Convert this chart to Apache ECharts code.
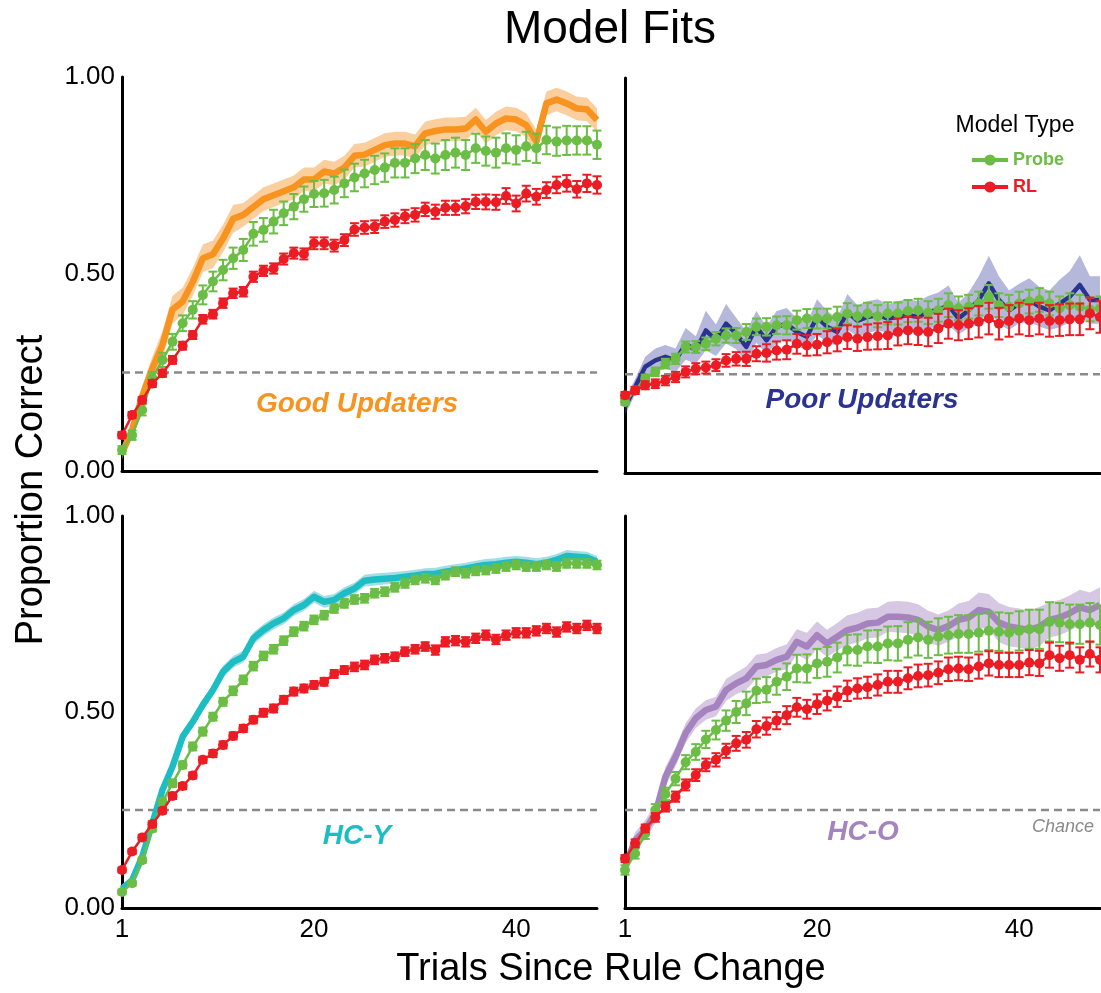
<!DOCTYPE html>
<html><head><meta charset="utf-8">
<script src="https://cdn.jsdelivr.net/npm/echarts@6/dist/echarts.min.js"></script>
<style>html,body{margin:0;padding:0;background:#fff}#c{width:1101px;height:993px}</style>
</head><body><div id="c"></div>
<script>
const trials = [1,2,3,4,5,6,7,8,9,10,11,12,13,14,15,16,17,18,19,20,21,22,23,24,25,26,27,28,29,30,31,32,33,34,35,36,37,38,39,40,41,42,43,44,45,46,47,48];
const xTickValues = [1,20,40];
const chanceLevel = 0.25;
const panelNames = ['Good Updaters','Poor Updaters','HC-Y','HC-O'];
const modelNames = ['Probe','RL'];

// Good Updaters
const goodData = [0.045,0.104,0.19,0.26,0.32,0.41,0.43,0.48,0.54,0.55,0.59,0.64,0.65,0.67,0.69,0.70,0.71,0.72,0.74,0.74,0.76,0.755,0.77,0.80,0.803,0.815,0.827,0.831,0.831,0.824,0.857,0.863,0.867,0.867,0.869,0.892,0.861,0.882,0.895,0.892,0.878,0.836,0.933,0.943,0.933,0.92,0.918,0.891];
const goodSE = [0.015,0.02,0.025,0.03,0.035,0.035,0.035,0.035,0.035,0.035,0.035,0.035,0.03,0.03,0.03,0.03,0.03,0.03,0.03,0.03,0.03,0.03,0.03,0.03,0.03,0.03,0.03,0.03,0.03,0.03,0.03,0.03,0.03,0.03,0.03,0.03,0.03,0.03,0.03,0.03,0.03,0.03,0.03,0.03,0.03,0.03,0.03,0.03];
const goodProbe = [0.053,0.091,0.155,0.235,0.282,0.328,0.375,0.409,0.447,0.481,0.510,0.540,0.561,0.602,0.612,0.633,0.654,0.671,0.690,0.703,0.705,0.713,0.730,0.745,0.755,0.764,0.770,0.782,0.782,0.793,0.802,0.793,0.802,0.808,0.802,0.819,0.812,0.808,0.819,0.815,0.824,0.819,0.840,0.836,0.839,0.839,0.839,0.828];
const goodProbeErr = [0.01,0.012,0.014,0.016,0.018,0.02,0.02,0.022,0.024,0.025,0.026,0.027,0.028,0.03,0.03,0.03,0.03,0.032,0.032,0.033,0.034,0.034,0.035,0.035,0.035,0.036,0.036,0.037,0.037,0.037,0.038,0.038,0.038,0.038,0.038,0.037,0.037,0.038,0.038,0.037,0.037,0.037,0.036,0.036,0.037,0.036,0.036,0.036];
const goodRL = [0.091,0.142,0.180,0.222,0.248,0.282,0.318,0.345,0.385,0.398,0.426,0.451,0.455,0.493,0.508,0.514,0.538,0.553,0.551,0.578,0.578,0.572,0.586,0.613,0.618,0.620,0.633,0.637,0.646,0.650,0.664,0.658,0.668,0.668,0.672,0.683,0.683,0.682,0.698,0.679,0.704,0.696,0.713,0.726,0.730,0.715,0.730,0.726];
const goodRLErr = [0.008,0.008,0.008,0.009,0.009,0.01,0.01,0.01,0.011,0.011,0.012,0.012,0.012,0.013,0.013,0.013,0.014,0.014,0.014,0.015,0.015,0.015,0.015,0.016,0.016,0.016,0.016,0.017,0.017,0.017,0.017,0.018,0.018,0.018,0.018,0.018,0.019,0.019,0.02,0.02,0.02,0.02,0.02,0.021,0.021,0.021,0.022,0.022];

// Poor Updaters
const poorData = [0.167,0.218,0.269,0.285,0.294,0.285,0.327,0.311,0.361,0.336,0.378,0.353,0.319,0.370,0.336,0.370,0.378,0.357,0.345,0.395,0.370,0.357,0.408,0.385,0.395,0.400,0.391,0.395,0.400,0.395,0.408,0.412,0.425,0.391,0.412,0.438,0.480,0.438,0.412,0.429,0.438,0.421,0.412,0.429,0.446,0.476,0.438,0.438];
const poorSE = [0.02,0.02,0.025,0.03,0.03,0.03,0.04,0.035,0.05,0.04,0.05,0.04,0.04,0.04,0.035,0.04,0.04,0.035,0.035,0.045,0.04,0.035,0.045,0.04,0.04,0.04,0.035,0.04,0.04,0.04,0.04,0.045,0.05,0.04,0.045,0.06,0.07,0.06,0.05,0.05,0.055,0.05,0.05,0.06,0.065,0.075,0.06,0.06];
const poorProbe = [0.180,0.209,0.239,0.256,0.277,0.289,0.319,0.319,0.327,0.340,0.348,0.348,0.357,0.370,0.370,0.374,0.374,0.387,0.391,0.391,0.391,0.395,0.404,0.397,0.404,0.397,0.404,0.404,0.410,0.412,0.406,0.412,0.425,0.417,0.421,0.429,0.446,0.425,0.421,0.429,0.434,0.438,0.429,0.417,0.425,0.421,0.414,0.417];
const poorProbeErr = [0.008,0.009,0.01,0.011,0.012,0.013,0.014,0.015,0.016,0.017,0.018,0.019,0.02,0.021,0.022,0.022,0.023,0.024,0.024,0.025,0.025,0.026,0.026,0.027,0.027,0.028,0.028,0.028,0.028,0.029,0.029,0.029,0.03,0.03,0.03,0.03,0.03,0.03,0.03,0.03,0.03,0.03,0.03,0.03,0.03,0.03,0.03,0.03];
const poorRL = [0.197,0.209,0.222,0.226,0.234,0.243,0.256,0.264,0.267,0.273,0.285,0.289,0.289,0.302,0.304,0.310,0.312,0.327,0.323,0.325,0.331,0.337,0.344,0.340,0.344,0.346,0.348,0.357,0.361,0.359,0.357,0.366,0.378,0.374,0.378,0.383,0.391,0.378,0.385,0.391,0.387,0.391,0.385,0.387,0.389,0.389,0.404,0.395];
const poorRLErr = [0.008,0.009,0.01,0.011,0.012,0.013,0.014,0.014,0.015,0.015,0.016,0.017,0.018,0.019,0.022,0.023,0.024,0.025,0.026,0.027,0.028,0.029,0.03,0.031,0.032,0.033,0.034,0.034,0.035,0.035,0.036,0.037,0.038,0.038,0.039,0.04,0.04,0.04,0.04,0.04,0.04,0.04,0.04,0.04,0.04,0.04,0.04,0.04];

// HC-Y
const hcyData = [0.050,0.071,0.131,0.216,0.301,0.361,0.437,0.475,0.518,0.556,0.603,0.628,0.641,0.688,0.709,0.726,0.739,0.760,0.773,0.794,0.781,0.786,0.803,0.815,0.835,0.838,0.840,0.842,0.845,0.848,0.852,0.853,0.858,0.862,0.866,0.871,0.875,0.877,0.881,0.883,0.881,0.877,0.881,0.888,0.898,0.896,0.894,0.883];
const hcySE = [0.01,0.01,0.01,0.012,0.012,0.012,0.014,0.014,0.014,0.014,0.015,0.015,0.015,0.015,0.015,0.015,0.015,0.015,0.015,0.015,0.015,0.015,0.015,0.015,0.015,0.015,0.015,0.015,0.015,0.015,0.015,0.015,0.015,0.015,0.015,0.015,0.015,0.015,0.015,0.015,0.015,0.015,0.015,0.015,0.015,0.015,0.015,0.015];
const hcyProbe = [0.041,0.063,0.122,0.203,0.271,0.318,0.365,0.412,0.450,0.488,0.526,0.554,0.582,0.617,0.643,0.660,0.682,0.705,0.719,0.735,0.747,0.764,0.777,0.787,0.790,0.803,0.807,0.818,0.828,0.837,0.841,0.837,0.849,0.858,0.854,0.860,0.862,0.866,0.871,0.875,0.871,0.871,0.875,0.871,0.879,0.879,0.879,0.875];
const hcyProbeErr = [0.006,0.006,0.007,0.008,0.008,0.009,0.009,0.01,0.01,0.01,0.01,0.011,0.011,0.011,0.011,0.011,0.011,0.011,0.011,0.011,0.011,0.011,0.011,0.011,0.011,0.011,0.011,0.011,0.011,0.011,0.011,0.011,0.011,0.011,0.011,0.011,0.011,0.011,0.011,0.011,0.011,0.011,0.011,0.011,0.011,0.011,0.011,0.011];
const hcyRL = [0.097,0.144,0.180,0.214,0.248,0.286,0.311,0.338,0.378,0.394,0.416,0.439,0.458,0.480,0.498,0.509,0.531,0.552,0.560,0.569,0.577,0.597,0.607,0.615,0.620,0.633,0.637,0.641,0.654,0.660,0.667,0.658,0.679,0.682,0.679,0.688,0.696,0.685,0.696,0.702,0.702,0.707,0.713,0.704,0.717,0.713,0.721,0.713];
const hcyRLErr = [0.006,0.006,0.007,0.007,0.007,0.008,0.008,0.008,0.008,0.009,0.009,0.009,0.009,0.009,0.01,0.01,0.01,0.01,0.01,0.01,0.01,0.01,0.01,0.011,0.011,0.011,0.011,0.011,0.011,0.011,0.011,0.012,0.012,0.012,0.012,0.012,0.012,0.012,0.012,0.012,0.012,0.012,0.012,0.012,0.012,0.012,0.012,0.012];

// HC-O
const hcoData = [0.105,0.173,0.199,0.241,0.335,0.386,0.446,0.484,0.505,0.514,0.556,0.573,0.586,0.616,0.620,0.633,0.641,0.679,0.667,0.696,0.675,0.692,0.709,0.715,0.726,0.728,0.743,0.743,0.741,0.735,0.718,0.709,0.719,0.735,0.741,0.760,0.756,0.728,0.718,0.714,0.709,0.718,0.735,0.741,0.752,0.767,0.760,0.773];
const hcoSE = [0.02,0.02,0.025,0.025,0.025,0.025,0.025,0.025,0.025,0.025,0.028,0.028,0.03,0.03,0.03,0.03,0.032,0.032,0.035,0.035,0.035,0.035,0.038,0.038,0.038,0.038,0.038,0.04,0.04,0.04,0.04,0.04,0.04,0.042,0.042,0.045,0.045,0.05,0.05,0.05,0.05,0.05,0.045,0.045,0.045,0.045,0.045,0.045];
const hcoProbe = [0.097,0.139,0.190,0.250,0.291,0.330,0.372,0.398,0.430,0.454,0.478,0.500,0.522,0.554,0.557,0.577,0.590,0.611,0.611,0.624,0.628,0.639,0.658,0.658,0.667,0.667,0.675,0.675,0.684,0.690,0.684,0.692,0.696,0.699,0.699,0.702,0.707,0.705,0.702,0.707,0.711,0.711,0.730,0.728,0.724,0.724,0.728,0.722];
const hcoProbeErr = [0.012,0.013,0.014,0.015,0.016,0.017,0.018,0.02,0.022,0.024,0.026,0.028,0.03,0.031,0.032,0.033,0.034,0.035,0.036,0.037,0.038,0.038,0.039,0.04,0.041,0.042,0.043,0.044,0.045,0.046,0.046,0.047,0.047,0.048,0.048,0.048,0.049,0.049,0.05,0.05,0.05,0.05,0.05,0.05,0.05,0.05,0.05,0.05];
const hcoRL = [0.126,0.165,0.203,0.231,0.258,0.284,0.314,0.339,0.365,0.378,0.401,0.420,0.429,0.456,0.464,0.478,0.492,0.512,0.507,0.520,0.529,0.539,0.554,0.560,0.563,0.569,0.577,0.577,0.586,0.592,0.594,0.600,0.609,0.611,0.609,0.616,0.624,0.620,0.620,0.620,0.626,0.624,0.645,0.637,0.645,0.633,0.648,0.633];
const hcoRLErr = [0.009,0.01,0.01,0.011,0.012,0.013,0.014,0.015,0.016,0.017,0.018,0.019,0.02,0.021,0.022,0.022,0.023,0.024,0.024,0.025,0.025,0.026,0.026,0.026,0.027,0.027,0.028,0.028,0.028,0.029,0.029,0.029,0.03,0.03,0.03,0.031,0.031,0.031,0.031,0.031,0.032,0.032,0.032,0.032,0.032,0.032,0.032,0.032];

const GREEN = '#6BBD45', RED = '#EC1C24';
const FONT = '"Liberation Sans", Arial, Helvetica, sans-serif';

const panels = [
  {data: goodData, se: goodSE, probe: goodProbe, probeErr: goodProbeErr, rl: goodRL, rlErr: goodRLErr,
   color: '#F7931E', band: 'rgba(248,160,60,0.5)', lw: 6.5, grid: {left:122, top:77, width:475, height:394}, lab:[357,404]},
  {data: poorData, se: poorSE, probe: poorProbe, probeErr: poorProbeErr, rl: poorRL, rlErr: poorRLErr,
   color: '#2B3391', band: 'rgba(60,68,160,0.38)', lw: 4.5, grid: {left:625, top:78, width:475, height:395}, lab:[862,400]},
  {data: hcyData, se: hcySE, probe: hcyProbe, probeErr: hcyProbeErr, rl: hcyRL, rlErr: hcyRLErr,
   color: '#1CBEC4', band: 'rgba(28,170,190,0.4)', lw: 6.5, grid: {left:122, top:516, width:475, height:392}, lab:[357,836]},
  {data: hcoData, se: hcoSE, probe: hcoProbe, probeErr: hcoProbeErr, rl: hcoRL, rlErr: hcoRLErr,
   color: '#A483BE', band: 'rgba(164,131,190,0.45)', lw: 6.5, grid: {left:625, top:516, width:475, height:392}, lab:[863,832]}
];

function pairs(arr){ return trials.map((t,k)=>[t, arr[k]]); }

function bandSeries(p, i){
  return {
    type:'custom', xAxisIndex:i, yAxisIndex:i, z:1, silent:true, clip:false,
    data: pairs(p.data), encode:{x:0,y:1},
    renderItem: function(params, api){
      if (params.dataIndex !== 0) return;
      const up = trials.map((t,k)=>api.coord([t, p.data[k]+p.se[k]]));
      const lo = trials.map((t,k)=>api.coord([t, p.data[k]-p.se[k]])).reverse();
      return {type:'polygon', shape:{points: up.concat(lo)}, style:{fill: p.band}};
    }
  };
}
function errSeries(m, e, color, i, z){
  return {
    type:'custom', xAxisIndex:i, yAxisIndex:i, z:z, silent:true, clip:false,
    data: trials.map((t,k)=>[t, m[k]-e[k], m[k]+e[k]]), encode:{x:0,y:[1,2]},
    renderItem: function(params, api){
      const x = api.value(0);
      const a = api.coord([x, api.value(1)]), b = api.coord([x, api.value(2)]);
      const w = 4.5, st = {stroke: color, lineWidth: 2};
      return {type:'group', children:[
        {type:'line', shape:{x1:a[0],y1:a[1],x2:b[0],y2:b[1]}, style:st},
        {type:'line', shape:{x1:a[0]-w,y1:a[1],x2:a[0]+w,y2:a[1]}, style:st},
        {type:'line', shape:{x1:b[0]-w,y1:b[1],x2:b[0]+w,y2:b[1]}, style:st}
      ]};
    }
  };
}

const grids = [], xAxes = [], yAxes = [], series = [], graphics = [];
panels.forEach((p, i) => {
  const isBottom = i >= 2, isLeft = (i % 2) === 0;
  grids.push(Object.assign({containLabel:false}, p.grid));
  xAxes.push({type:'value', gridIndex:i, min:1, max:48,
    axisLine:{show:true, onZero:false, lineStyle:{color:'#000', width:3}},
    axisTick:{show:false}, splitLine:{show:false},
    axisLabel:{show:isBottom, customValues: xTickValues, fontSize:26, color:'#000', fontFamily:FONT, margin:9}});
  yAxes.push({type:'value', gridIndex:i, min:0, max:1, interval:0.5,
    axisLine:{show:true, onZero:false, lineStyle:{color:'#000', width:3}},
    axisTick:{show:false}, splitLine:{show:false},
    axisLabel:{show:isLeft, fontSize:26, color:'#000', fontFamily:FONT, margin:7, formatter: v => v.toFixed(2)}});
  series.push({type:'line', xAxisIndex:i, yAxisIndex:i, z:0, silent:true, symbol:'none',
    data:[[trials[0], chanceLevel],[trials[trials.length-1], chanceLevel]],
    lineStyle:{color:'#8a8a8a', width:2.4, type:[8,5]}});
  series.push(bandSeries(p, i));
  series.push({type:'line', xAxisIndex:i, yAxisIndex:i, z:2, silent:true, symbol:'none', clip:false,
    data: pairs(p.data), lineStyle:{color:p.color, width:p.lw, join:'round'}});
  series.push(errSeries(p.probe, p.probeErr, GREEN, i, 3));
  series.push({type:'line', name:modelNames[0], xAxisIndex:i, yAxisIndex:i, z:4, clip:false,
    data: pairs(p.probe), symbol:'circle', symbolSize:10, itemStyle:{color:GREEN},
    lineStyle:{color:GREEN, width:2.5}});
  series.push(errSeries(p.rl, p.rlErr, RED, i, 5));
  series.push({type:'line', name:modelNames[1], xAxisIndex:i, yAxisIndex:i, z:6, clip:false,
    data: pairs(p.rl), symbol:'circle', symbolSize:10, itemStyle:{color:RED},
    lineStyle:{color:RED, width:2.5}});
  graphics.push({type:'text', x:p.lab[0], y:p.lab[1], z:100,
    style:{text:panelNames[i], fill:p.color, font:'italic bold 28px ' + FONT, textAlign:'center', textVerticalAlign:'middle'}});
});

graphics.push({type:'text', x:610, y:30, style:{text:'Model Fits', fill:'#000', font:'46px ' + FONT, textAlign:'center', textVerticalAlign:'middle'}});
graphics.push({type:'text', x:611, y:970, style:{text:'Trials Since Rule Change', fill:'#000', font:'38px ' + FONT, textAlign:'center', textVerticalAlign:'middle'}});
graphics.push({type:'text', x:32, y:490, rotation:Math.PI/2, style:{text:'Proportion Correct', fill:'#000', font:'38px ' + FONT, textAlign:'center', textVerticalAlign:'middle'}});
graphics.push({type:'text', x:1015, y:126, style:{text:'Model Type', fill:'#000', font:'23px ' + FONT, textAlign:'center', textVerticalAlign:'middle'}});
graphics.push({type:'text', x:1063, y:827, style:{text:'Chance', fill:'#8a8a8a', font:'italic 18px ' + FONT, textAlign:'center', textVerticalAlign:'middle'}});

const chart = echarts.init(document.getElementById('c'));
chart.setOption({
  animation:false,
  backgroundColor:'#fff',
  grid: grids, xAxis: xAxes, yAxis: yAxes, series: series,
  legend: {orient:'vertical', left:965, top:146, itemWidth:36, itemHeight:14, itemGap:9,
    selectedMode:false, lineStyle:{width:4},
    data:[{name:modelNames[0], textStyle:{color:GREEN}}, {name:modelNames[1], textStyle:{color:RED}}],
    textStyle:{fontSize:18, fontWeight:'bold', fontFamily:FONT}},
  graphic: graphics
});
</script></body></html>
